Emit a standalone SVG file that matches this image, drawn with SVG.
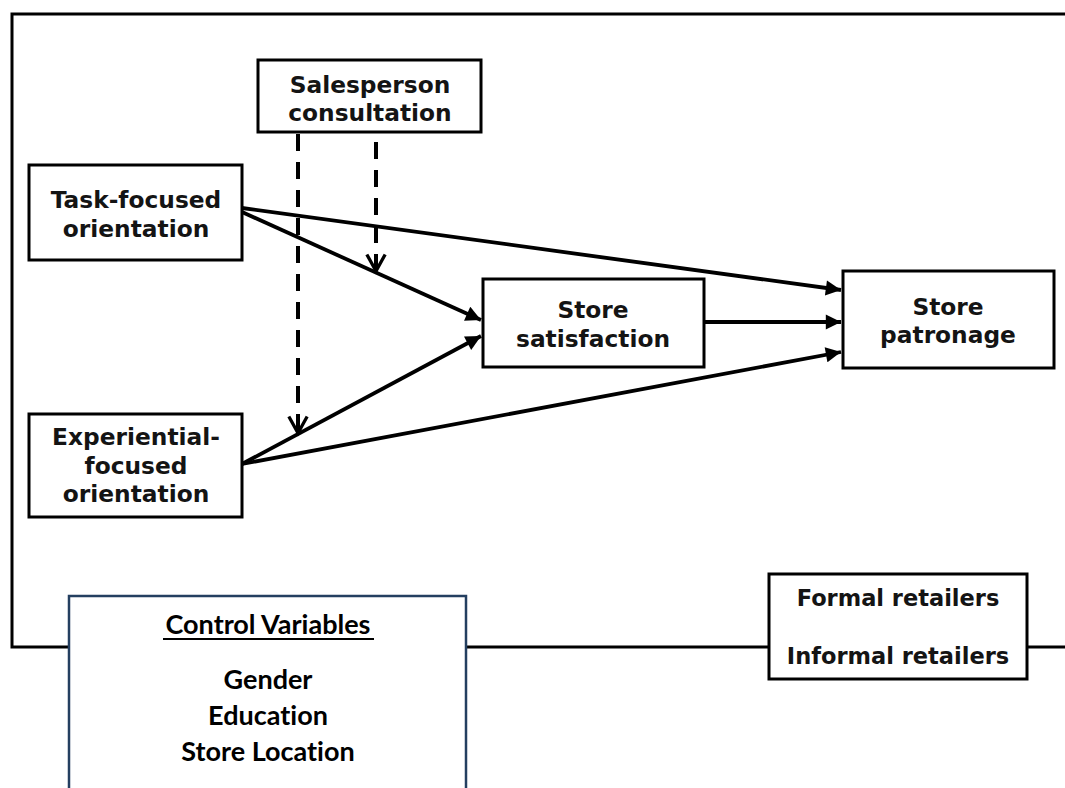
<svg xmlns="http://www.w3.org/2000/svg" width="1065" height="788" viewBox="0 0 1065 788">
<style>
.box{fill:#fff;stroke:#000;stroke-width:3}
.t{font-family:"DejaVu Sans",sans-serif;font-weight:bold;font-size:23.3px;fill:#141414;text-anchor:middle}
.r{font-size:22.5px}
.c{font-family:Lato,"Liberation Sans",sans-serif;font-weight:bold;font-size:27px;fill:#000;text-anchor:middle;font-variant-ligatures:none}
.sol{stroke:#000;stroke-width:3.8;fill:none;marker-end:url(#tri)}
.dash{stroke:#000;stroke-width:4;fill:none;stroke-dasharray:17 11;marker-end:url(#vee)}
</style>
<defs>
<marker id="tri" viewBox="0 0 10 10" refX="10" refY="5" markerWidth="4.5" markerHeight="4" orient="auto" markerUnits="strokeWidth">
<path d="M0,0 L10,5 L0,10 z" fill="#000"/>
</marker>
<marker id="vee" viewBox="0 0 12 12" refX="10" refY="6" markerWidth="5.5" markerHeight="5.5" orient="auto" markerUnits="strokeWidth">
<path d="M1,1 L10,6 L1,11" fill="none" stroke="#000" stroke-width="1.8"/>
</marker>
</defs>
<rect width="1065" height="788" fill="#fff"/>
<g id="frame">
<path d="M1070,14 L12,14 L12,647 L1070,647" fill="none" stroke="#000" stroke-width="3"/>
</g>
<g id="connectors">
<line class="sol" x1="242" y1="208" x2="841" y2="290"/>
<line class="sol" x1="242" y1="212" x2="481" y2="320"/>
<line class="sol" x1="242" y1="464" x2="481" y2="336"/>
<line class="sol" x1="242" y1="464" x2="841" y2="352"/>
<line class="sol" x1="704" y1="322" x2="841" y2="322"/>
<line class="dash" x1="298" y1="134" x2="298" y2="433"/>
<line class="dash" x1="376" y1="142" x2="376" y2="271"/>
</g>
<g id="salesperson">
<rect class="box" x="258" y="60" width="223" height="72"/>
<text class="t" x="370" y="93">Salesperson</text>
<text class="t" x="370" y="121">consultation</text>
</g>
<g id="task">
<rect class="box" x="29" y="165" width="213" height="95"/>
<text class="t" x="136" y="208">Task-focused</text>
<text class="t" x="136" y="237">orientation</text>
</g>
<g id="satisfaction">
<rect class="box" x="483" y="279" width="221" height="88"/>
<text class="t" x="593" y="318">Store</text>
<text class="t" x="593" y="347">satisfaction</text>
</g>
<g id="patronage">
<rect class="box" x="843" y="271" width="211" height="97"/>
<text class="t" x="948" y="315">Store</text>
<text class="t" x="948" y="343">patronage</text>
</g>
<g id="experiential">
<rect class="box" x="29" y="414" width="213" height="103"/>
<text class="t" x="136" y="445">Experiential-</text>
<text class="t" x="136" y="474">focused</text>
<text class="t" x="136" y="502">orientation</text>
</g>
<g id="retailers">
<rect class="box" x="769" y="574" width="258" height="105"/>
<text class="t r" x="898" y="606">Formal retailers</text>
<text class="t r" x="898" y="664">Informal retailers</text>
</g>
<g id="control">
<rect x="69" y="596" width="397" height="200" fill="#fff" stroke="#243f60" stroke-width="2.5"/>
<text class="c" x="268" y="634">Control Variables</text>
<line x1="163" y1="639" x2="374" y2="639" stroke="#000" stroke-width="2"/>
<text class="c" x="268" y="689">Gender</text>
<text class="c" x="268" y="725">Education</text>
<text class="c" x="268" y="761">Store Location</text>
</g>
</svg>
